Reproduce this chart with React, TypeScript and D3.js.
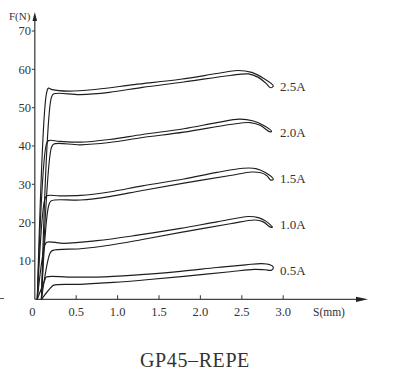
import React from "react";
import * as d3 from "d3";

const W = 393;
const H = 379;

const currentLabels = ["2.5A", "2.0A", "1.5A", "1.0A", "0.5A"];
const labelF = [55.4, 43.4, 31.4, 19.5, 7.6];

const xTicks = [0.5, 1.0, 1.5, 2.0, 2.5, 3.0];
const xTickLabels = ["0.5", "1.0", "1.5", "2.0", "2.5", "3.0"];
const yTicks = [10, 20, 30, 40, 50, 60, 70];

// upper / lower branch of each loop: [S (mm), F (N)]
const upper25: [number, number][] = [[0.03, 0], [0.14, 53.6], [0.165, 55.1], [0.21, 54.7], [0.4, 54.3], [0.75, 54.8], [1.2, 56.0], [1.76, 57.4], [2.2, 58.9], [2.45, 59.7], [2.62, 59.2], [2.76, 57.7], [2.88, 55.7]];
const lower25: [number, number][] = [[0.08, 0], [0.2, 52.6], [0.23, 53.6], [0.55, 53.4], [0.9, 54.0], [1.3, 55.3], [1.8, 56.7], [2.36, 58.4], [2.58, 58.8], [2.7, 57.9], [2.79, 56.4], [2.85, 55.2]];

const upper20: [number, number][] = [[0.03, 0], [0.14, 40.5], [0.165, 41.4], [0.3, 41.2], [0.55, 41.0], [0.9, 41.7], [1.3, 43.0], [1.8, 44.5], [2.2, 46.1], [2.47, 47.0], [2.63, 46.6], [2.76, 45.4], [2.86, 43.8]];
const lower20: [number, number][] = [[0.08, 0], [0.2, 39.5], [0.23, 40.5], [0.55, 40.3], [0.9, 40.9], [1.3, 42.2], [1.8, 43.6], [2.36, 45.6], [2.6, 46.1], [2.72, 45.4], [2.84, 43.7]];

const upper15: [number, number][] = [[0.03, 0], [0.12, 26.0], [0.145, 27.0], [0.3, 27.0], [0.55, 27.1], [0.9, 28.0], [1.3, 29.6], [1.8, 31.4], [2.2, 33.1], [2.52, 34.2], [2.67, 34.1], [2.79, 33.0], [2.88, 31.3]];
const lower15: [number, number][] = [[0.08, 0], [0.17, 24.6], [0.2, 25.7], [0.55, 25.9], [0.9, 26.8], [1.3, 28.4], [1.8, 30.3], [2.36, 32.3], [2.62, 33.2], [2.73, 33.0], [2.8, 32.3], [2.85, 31.1]];

const upper10: [number, number][] = [[0.03, 0], [0.12, 14.0], [0.145, 14.9], [0.35, 14.6], [0.75, 15.3], [1.2, 16.6], [1.76, 18.5], [2.2, 20.2], [2.58, 21.6], [2.7, 21.3], [2.79, 20.4], [2.87, 18.8]];
const lower10: [number, number][] = [[0.08, 0], [0.18, 11.8], [0.21, 12.7], [0.55, 13.2], [0.9, 14.1], [1.3, 15.6], [1.8, 17.6], [2.36, 19.7], [2.66, 20.7], [2.76, 20.2], [2.84, 18.9]];

const upper05: [number, number][] = [[0.03, 0], [0.12, 5.0], [0.14, 5.8], [0.4, 5.8], [0.75, 5.8], [1.2, 6.3], [1.76, 7.3], [2.2, 8.3], [2.55, 9.0], [2.74, 9.3], [2.84, 9.0], [2.88, 8.4]];
const lower05: [number, number][] = [[0.08, 0], [0.2, 3.2], [0.23, 3.7], [0.55, 3.9], [0.95, 4.4], [1.35, 5.1], [1.8, 6.0], [2.36, 7.2], [2.65, 7.8], [2.78, 7.7], [2.86, 7.6]];

const uppers = [upper25, upper20, upper15, upper10, upper05];
const lowers = [lower25, lower20, lower15, lower10, lower05];

const FONT = "'Liberation Serif', 'DejaVu Serif', serif";
const INK = "#1e1e1e";

export default function App() {
  const x = d3.scaleLinear().domain([0, 3]).range([34.8, 283.2]);
  const y = d3.scaleLinear().domain([0, 70]).range([299.3, 31]);
  const x0 = x(0);
  const y0 = y(0);

  const line = d3
    .line<[number, number]>()
    .x((d) => x(d[0]))
    .y((d) => y(d[1]))
    .curve(d3.curveCatmullRom.alpha(0.5));

  const xEnd = 368;
  const yTop = 12;

  return (
    <svg
      width={W}
      height={H}
      style={{ position: "absolute", left: 0, top: 0, background: "#fff" }}
      fontFamily={FONT}
    >
      <rect x={0} y={0} width={W} height={H} fill="#fff" />
      {/* stray mark at left */}
      <line x1={0} x2={4} y1={298.5} y2={298.5} stroke="#555" strokeWidth={1} />

      {/* axes */}
      <line x1={x0} x2={xEnd - 8} y1={y0} y2={y0} stroke="#444" strokeWidth={1.3} />
      <path d={`M${xEnd},${y0} L${xEnd - 12},${y0 - 2.6} L${xEnd - 12},${y0 + 2.6} Z`} fill="#222" />
      <line x1={x0} x2={x0} y1={y0} y2={yTop + 6} stroke="#444" strokeWidth={1.3} />
      <path d={`M${x0},${yTop} L${x0 - 2.3},${yTop + 9} L${x0 + 2.3},${yTop + 9} Z`} fill="#222" />

      {xTicks.map((t, i) => (
        <g key={"xt" + i}>
          <line x1={x(t)} x2={x(t)} y1={y0} y2={y0 - 4} stroke="#444" strokeWidth={1.1} />
          <text x={x(t)} y={316} textAnchor="middle" fontSize={12.5} fill="#333">
            {xTickLabels[i]}
          </text>
        </g>
      ))}
      <text x={32.3} y={316} textAnchor="middle" fontSize={12.5} fill="#333">0</text>
      <text x={313} y={316} fontSize={11.5} fill="#333">S(mm)</text>

      {yTicks.map((t) => (
        <g key={"yt" + t}>
          <line x1={x0 - 3} x2={x0} y1={y(t)} y2={y(t)} stroke="#444" strokeWidth={1.1} />
          <text x={31} y={y(t) + 4.3} textAnchor="end" fontSize={12.5} fill="#333">
            {t}
          </text>
        </g>
      ))}
      <text x={9} y={19.5} fontSize={11} fill="#333">F(N)</text>

      {/* loops */}
      {uppers.map((u, i) => {
        const pts = [...u, ...lowers[i].slice().reverse()];
        return (
          <path
            key={"c" + i}
            d={line(pts) || ""}
            fill="none"
            stroke={INK}
            strokeWidth={1.15}
            strokeLinejoin="round"
          />
        );
      })}

      {currentLabels.map((lab, i) => (
        <text key={lab} x={280} y={y(labelF[i]) + 4.5} fontSize={13} fill="#333">
          {lab}
        </text>
      ))}

      <text x={195} y={367} textAnchor="middle" fontSize={20} fill="#333" letterSpacing={0.6}>
        GP45–REPE
      </text>
    </svg>
  );
}
